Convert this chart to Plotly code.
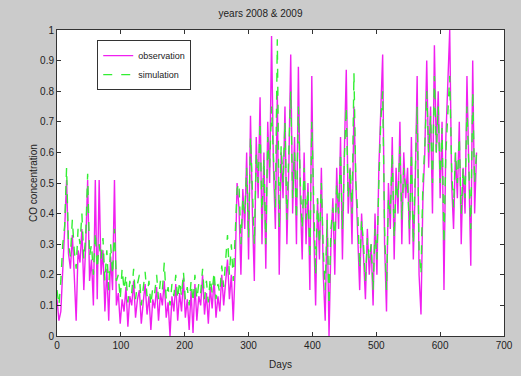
import plotly.graph_objects as go

days = list(range(0, 660, 3))

observation = [
    0.12, 0.05, 0.08, 0.2, 0.35, 0.51,
    0.27, 0.22, 0.33, 0.2, 0.05, 0.28, 0.24, 0.35, 0.15, 0.3,
    0.51, 0.18, 0.25, 0.1, 0.51, 0.12, 0.51, 0.2, 0.28, 0.08, 0.22, 0.05, 0.26, 0.15, 0.51, 0.1,
    0.14, 0.04, 0.12, 0.08, 0.16, 0.03, 0.13, 0.1, 0.18, 0.06, 0.12, 0.15, 0.04, 0.11, 0.17, 0.07,
    0.13, 0.02, 0.12, 0.09, 0.16, 0.05, 0.14, 0.1, 0.18, 0.06, 0.11, 0.0, 0.13, 0.08, 0.17,
    0.05, 0.14, 0.08, 0.19, 0.06, 0.12, 0.02, 0.15, 0.01, 0.17, 0.05, 0.13, 0.1, 0.2, 0.07,
    0.14, 0.04, 0.16, 0.09, 0.19, 0.06, 0.13, 0.08, 0.2, 0.1,
    0.18, 0.25, 0.12, 0.2, 0.05, 0.22, 0.5,
    0.42, 0.2, 0.48, 0.35, 0.6, 0.25, 0.72, 0.4, 0.18, 0.65, 0.45, 0.78, 0.3, 0.6, 0.22, 0.7, 0.5,
    0.98, 0.55, 0.35, 0.8, 0.2, 0.6, 0.45, 0.75, 0.3, 0.55, 0.92, 0.4, 0.65, 0.3, 0.88,
    0.45, 0.25, 0.6, 0.3, 0.5, 0.15, 0.85, 0.35, 0.1, 0.45, 0.25, 0.55, 0.2, 0.05, 0.4, 0.0, 0.3,
    0.45, 0.2, 0.55, 0.35, 0.65, 0.25, 0.6, 0.87, 0.4, 0.55, 0.3, 0.75, 0.5,
    0.35, 0.15, 0.4, 0.25, 0.12, 0.35, 0.2, 0.3, 0.1, 0.4, 0.2, 0.55, 0.78,
    0.92, 0.3, 0.08, 0.5, 0.35, 0.65, 0.25, 0.55, 0.4, 0.7, 0.3, 0.6, 0.45,
    0.55, 0.3, 0.65, 0.25, 0.5, 0.85, 0.2, 0.07, 0.45, 0.6,
    0.9, 0.55, 0.75, 0.4, 0.95, 0.6, 0.8, 0.45, 0.7, 0.15, 0.65, 0.85,
    1.0, 0.5, 0.35, 0.6, 0.45, 0.7, 0.3, 0.55, 0.4, 0.85, 0.5, 0.23, 0.9, 0.4, 0.6,
]

simulation = [
    0.15, 0.1, 0.18, 0.3, 0.36, 0.55,
    0.3, 0.26, 0.38, 0.28, 0.22, 0.35, 0.3, 0.4, 0.25, 0.33,
    0.53, 0.26, 0.3, 0.2, 0.34, 0.22, 0.3, 0.25, 0.32, 0.18, 0.28, 0.15, 0.3, 0.2, 0.35, 0.18,
    0.2, 0.12, 0.22, 0.15, 0.2, 0.11, 0.18, 0.14, 0.22, 0.12, 0.17, 0.2, 0.1, 0.16, 0.21, 0.13,
    0.18, 0.1, 0.16, 0.14, 0.2, 0.12, 0.18, 0.15, 0.24, 0.12, 0.16, 0.1, 0.17, 0.13, 0.2,
    0.12, 0.18, 0.13, 0.21, 0.12, 0.16, 0.1, 0.18, 0.11, 0.2, 0.12, 0.17, 0.14, 0.22, 0.12,
    0.18, 0.11, 0.19, 0.14, 0.21, 0.12, 0.17, 0.14, 0.23, 0.16,
    0.25, 0.33, 0.2, 0.3, 0.18, 0.35, 0.48,
    0.5, 0.3, 0.45, 0.4, 0.55, 0.32, 0.65, 0.45, 0.3, 0.6, 0.5, 0.7, 0.38, 0.58, 0.3, 0.65, 0.55,
    0.75, 0.6, 0.42, 0.97, 0.35, 0.62, 0.5, 0.7, 0.38, 0.6, 0.8, 0.45, 0.6, 0.38, 0.75,
    0.5, 0.35, 0.55, 0.38, 0.48, 0.25, 0.7, 0.4, 0.2, 0.45, 0.3, 0.5, 0.28, 0.15, 0.38, 0.1, 0.35,
    0.42, 0.3, 0.5, 0.4, 0.6, 0.35, 0.58, 0.75, 0.45, 0.55, 0.4, 0.86, 0.5,
    0.4, 0.22, 0.38, 0.3, 0.18, 0.32, 0.25, 0.3, 0.15, 0.35, 0.25, 0.5, 0.7,
    0.8, 0.35, 0.15, 0.45, 0.4, 0.6, 0.32, 0.5, 0.45, 0.62, 0.38, 0.55, 0.48,
    0.5, 0.35, 0.6, 0.3, 0.5, 0.75, 0.28, 0.2, 0.5, 0.62,
    0.8, 0.6, 0.72, 0.5, 0.85, 0.6, 0.75, 0.5, 0.68, 0.3, 0.6, 0.75,
    0.85, 0.55, 0.42, 0.6, 0.5, 0.65, 0.4, 0.55, 0.45, 0.75, 0.55, 0.35, 0.8, 0.5, 0.6,
]

x_ticks = [0, 100, 200, 300, 400, 500, 600, 700]
y_ticks = [0, 0.1, 0.2, 0.3, 0.4, 0.5, 0.6, 0.7, 0.8, 0.9, 1]
y_tick_labels = ["0", "0.1", "0.2", "0.3", "0.4", "0.5", "0.6", "0.7", "0.8", "0.9", "1"]

fam = "Liberation Sans, Arial, sans-serif"
font = dict(family=fam, size=10, color="#222222")

fig = go.Figure()
fig.add_trace(go.Scatter(x=days, y=observation, mode="lines", name="observation",
                         line=dict(color="#f020f0", width=1.4)))
fig.add_trace(go.Scatter(x=days, y=simulation, mode="lines", name="simulation",
                         line=dict(color="#33ee33", width=1.4, dash="dash")))

fig.update_layout(
    width=521, height=376,
    margin=dict(l=57, r=17, t=30, b=40),
    paper_bgcolor="#cbcbcb",
    plot_bgcolor="#ffffff",
    font=font,
    title=dict(text="years 2008 & 2009", x=0.5, xanchor="center", y=0.965, yanchor="middle",
               font=dict(family=fam, size=10, color="#222222")),
    showlegend=True,
    legend=dict(x=0.09, y=0.967, xanchor="left", yanchor="top", bgcolor="#ffffff",
                bordercolor="#333333", borderwidth=1, font=dict(family=fam, size=9, color="#222222"),
                tracegroupgap=0, itemwidth=30),
)
fig.update_xaxes(range=[0, 700], tickvals=x_ticks, ticks="inside", ticklen=4, tickcolor="#333333",
                 showline=True, linecolor="#333333", linewidth=1, mirror="ticks", showgrid=False,
                 zeroline=False, automargin=False, tickfont=dict(family=fam, size=10, color="#222222"),
                 title=dict(text="Days", standoff=10, font=dict(family=fam, size=10, color="#222222")))
fig.update_yaxes(range=[0, 1], tickvals=y_ticks, ticktext=y_tick_labels, ticks="inside", ticklen=4,
                 tickcolor="#333333", showline=True, linecolor="#333333", linewidth=1, mirror="ticks",
                 showgrid=False, zeroline=False, automargin=False,
                 tickfont=dict(family=fam, size=10, color="#222222"),
                 title=dict(text="CO concentration", standoff=0,
                            font=dict(family=fam, size=10, color="#222222")))

fig.write_html("out.html")
